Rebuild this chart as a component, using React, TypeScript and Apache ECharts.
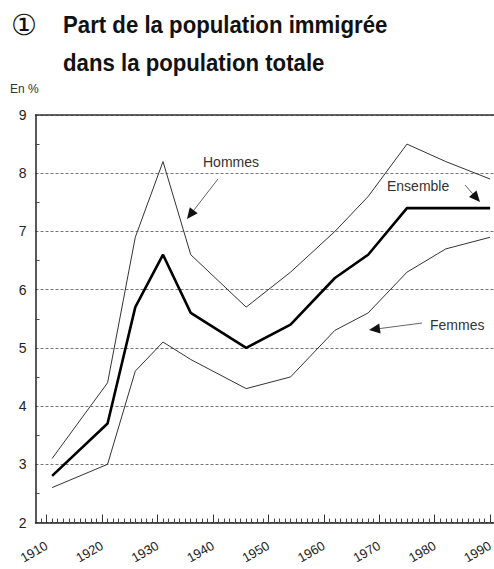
import React, { useEffect, useRef } from "react";
import * as echarts from "echarts";

const years = [1911, 1921, 1926, 1931, 1936, 1946, 1954, 1962, 1968, 1975, 1982, 1990];
const ensemble = [2.8, 3.7, 5.7, 6.6, 5.6, 5.0, 5.4, 6.2, 6.6, 7.4, 7.4, 7.4];
const hommes = [3.1, 4.4, 6.9, 8.2, 6.6, 5.7, 6.3, 7.0, 7.6, 8.5, 8.2, 7.9];
const femmes = [2.6, 3.0, 4.6, 5.1, 4.8, 4.3, 4.5, 5.3, 5.6, 6.3, 6.7, 6.9];
const decadeTicks = [1910, 1920, 1930, 1940, 1950, 1960, 1970, 1980, 1990];
const yearTicks: number[] = [];
for (let y = 1909; y <= 1990; y++) yearTicks.push(y);

const titleLine1 = "Part de la population immigrée";
const titleLine2 = "dans la population totale";
const unitLabel = "En %";

const X_MIN = 1908;
const X_MAX = 1990.7;
const FONT = "'Liberation Sans', Arial, sans-serif";
const TITLE_FONT = "'Liberation Sans', Arial, sans-serif";
const TITLE_SCALE = 0.925;

function arrow(x1: number, y1: number, x2: number, y2: number) {
  const dx = x2 - x1;
  const dy = y2 - y1;
  const len = Math.sqrt(dx * dx + dy * dy);
  const ux = dx / len;
  const uy = dy / len;
  const hl = 11;
  const hw = 5;
  const bx = x2 - ux * hl;
  const by = y2 - uy * hl;
  return {
    type: "group",
    children: [
      {
        type: "line",
        shape: { x1, y1, x2: bx, y2: by },
        style: { stroke: "#666", lineWidth: 1 },
      },
      {
        type: "polygon",
        shape: {
          points: [
            [x2, y2],
            [bx - uy * hw, by + ux * hw],
            [bx + uy * hw, by - ux * hw],
          ],
        },
        style: { fill: "#111" },
      },
    ],
  };
}

export default function App() {
  const ref = useRef<HTMLDivElement>(null);
  useEffect(() => {
    if (!ref.current) return;
    const chart = echarts.init(ref.current, undefined, { renderer: "svg" });
    const mk = (arr: number[]) => years.map((y, i) => [y, arr[i]]);
    chart.setOption({
      animation: false,
      backgroundColor: "#fff",
      grid: {
        left: 35.5,
        right: 0,
        top: 115,
        bottom: 46.5,
        containLabel: false,
        outerBoundsMode: "none",
      },
      xAxis: [
        {
          type: "value",
          min: X_MIN,
          max: X_MAX,
          position: "bottom",
          axisLine: { show: true, lineStyle: { color: "#222", width: 1.5 } },
          axisTick: {
            show: true,
            inside: true,
            length: 4,
            customValues: yearTicks,
            lineStyle: { color: "#444", width: 1 },
          },
          axisLabel: { show: false },
          splitLine: { show: false },
        },
        {
          type: "value",
          min: X_MIN,
          max: X_MAX,
          position: "bottom",
          axisLine: { show: false },
          axisTick: {
            show: true,
            inside: true,
            length: 8,
            customValues: decadeTicks,
            lineStyle: { color: "#333", width: 1 },
          },
          axisLabel: {
            show: true,
            customValues: decadeTicks,
            formatter: (v: number) => String(v),
            rotate: 30,
            margin: 22,
            fontSize: 13,
            color: "#222",
            fontFamily: FONT,
          },
          splitLine: { show: false },
        },
        {
          type: "value",
          min: X_MIN,
          max: X_MAX,
          position: "top",
          axisLine: { show: true, lineStyle: { color: "#333", width: 1.5 } },
          axisTick: { show: false },
          axisLabel: { show: false },
          splitLine: { show: false },
        },
      ],
      yAxis: {
        type: "value",
        min: 2,
        max: 9,
        interval: 1,
        axisLine: { show: true, lineStyle: { color: "#222", width: 1.5 } },
        axisTick: { show: false, inside: true },
        minorTick: { show: true, splitNumber: 2, length: 4, lineStyle: { color: "#444" } },
        axisLabel: { fontSize: 14, color: "#222", margin: 9, fontFamily: FONT },
        splitLine: { show: true, lineStyle: { color: "#777", type: [3, 2], width: 1 } },
        minorSplitLine: { show: false },
      },
      series: [
        {
          type: "line",
          name: "Hommes",
          xAxisIndex: 0,
          data: mk(hommes),
          symbol: "none",
          lineStyle: { color: "#333", width: 1 },
        },
        {
          type: "line",
          name: "Femmes",
          xAxisIndex: 0,
          data: mk(femmes),
          symbol: "none",
          lineStyle: { color: "#333", width: 1 },
        },
        {
          type: "line",
          name: "Ensemble",
          xAxisIndex: 0,
          data: mk(ensemble),
          symbol: "none",
          lineStyle: { color: "#000", width: 2.6 },
          z: 3,
        },
      ],
      graphic: [
        {
          type: "text",
          x: 11,
          y: 25,
          style: {
            text: "①",
            fontSize: 29,
            fontFamily: "'DejaVu Sans', sans-serif",
            fill: "#111",
            verticalAlign: "middle",
          },
        },
        {
          type: "text",
          x: 63,
          y: 25,
          scaleX: TITLE_SCALE,
          style: {
            text: titleLine1,
            fontSize: 24,
            fontWeight: "bold",
            fontFamily: TITLE_FONT,
            fill: "#111",
            verticalAlign: "middle",
          },
        },
        {
          type: "text",
          x: 63,
          y: 63,
          scaleX: TITLE_SCALE,
          style: {
            text: titleLine2,
            fontSize: 24,
            fontWeight: "bold",
            fontFamily: TITLE_FONT,
            fill: "#111",
            verticalAlign: "middle",
          },
        },
        {
          type: "text",
          x: 10,
          y: 89,
          style: {
            text: unitLabel,
            fontSize: 12,
            fontFamily: FONT,
            fill: "#333",
            verticalAlign: "middle",
          },
        },
        {
          type: "text",
          x: 203,
          y: 162,
          style: { text: "Hommes", fontSize: 14, fontFamily: FONT, fill: "#333", verticalAlign: "middle" },
        },
        {
          type: "text",
          x: 387,
          y: 186,
          style: { text: "Ensemble", fontSize: 14, fontFamily: FONT, fill: "#333", verticalAlign: "middle" },
        },
        {
          type: "text",
          x: 430,
          y: 325,
          style: { text: "Femmes", fontSize: 14, fontFamily: FONT, fill: "#333", verticalAlign: "middle" },
        },
        arrow(218, 179, 187, 219),
        arrow(465, 185, 480, 202),
        arrow(422, 323, 369, 330),
      ],
    });
    return () => chart.dispose();
  }, []);
  return (
    <div
      ref={ref}
      style={{ position: "absolute", left: 0, top: 0, width: 494, height: 569 }}
    />
  );
}
